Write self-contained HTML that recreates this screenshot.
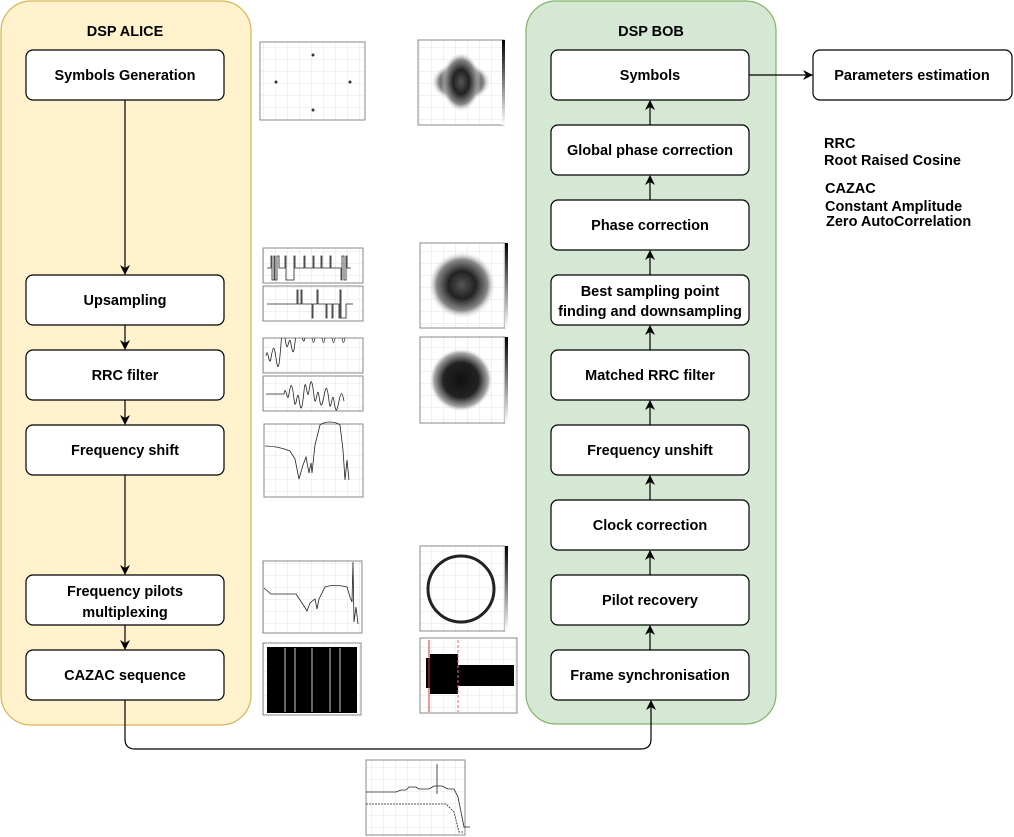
<!DOCTYPE html>
<html><head><meta charset="utf-8"><style>
html,body{margin:0;padding:0;background:#fff;width:1014px;height:837px;overflow:hidden}
svg text{font-family:"Liberation Sans",Arial,sans-serif;font-weight:bold;font-size:14.5px;fill:#000}
</style></head><body>
<svg width="1014" height="837" viewBox="0 0 1014 837" xmlns="http://www.w3.org/2000/svg">
<defs>
<marker id="ah" viewBox="0 0 10 10" refX="9" refY="5" markerWidth="10" markerHeight="10" markerUnits="userSpaceOnUse" orient="auto"><path d="M0,0 L10,5 L0,10 L3,5 Z" fill="#000"/></marker>
<pattern id="g" width="12" height="12" patternUnits="userSpaceOnUse"><path d="M12 0V12M0 12H12" stroke="#ddd" stroke-width="0.8" fill="none"/></pattern>
<radialGradient id="h1"><stop offset="0" stop-color="#555"/><stop offset="0.4" stop-color="#222"/><stop offset="0.75" stop-color="#888"/><stop offset="1" stop-color="#fff" stop-opacity="0"/></radialGradient>
<radialGradient id="h2"><stop offset="0" stop-color="#111"/><stop offset="0.55" stop-color="#222"/><stop offset="0.85" stop-color="#aaa"/><stop offset="1" stop-color="#fff" stop-opacity="0"/></radialGradient>
<linearGradient id="cb" x1="0" y1="0" x2="0" y2="1"><stop offset="0" stop-color="#000"/><stop offset="1" stop-color="#fff"/></linearGradient>
<clipPath id="c1"><rect x="263" y="248" width="100" height="35"/></clipPath>
<clipPath id="c2"><rect x="263" y="286" width="100" height="35"/></clipPath>
<clipPath id="c3"><rect x="263" y="338" width="100" height="35"/></clipPath>
<clipPath id="c4"><rect x="263" y="376" width="100" height="35"/></clipPath>
</defs>
<rect x="1" y="1" width="250" height="724" rx="30" fill="#fff2cc" stroke="#d6b656" stroke-width="1.2"/>
<rect x="526" y="1" width="250" height="723" rx="30" fill="#d5e8d4" stroke="#82b366" stroke-width="1.2"/>
<text x="125" y="36" text-anchor="middle">DSP ALICE</text>
<text x="651" y="36" text-anchor="middle">DSP BOB</text>
<g fill="#fff" stroke="#000" stroke-width="1.2">
<rect x="26" y="50" width="198" height="50" rx="7"/>
<rect x="26" y="275" width="198" height="50" rx="7"/>
<rect x="26" y="350" width="198" height="50" rx="7"/>
<rect x="26" y="425" width="198" height="50" rx="7"/>
<rect x="26" y="575" width="198" height="50" rx="7"/>
<rect x="26" y="650" width="198" height="50" rx="7"/>
<rect x="551" y="50" width="198" height="50" rx="7"/>
<rect x="551" y="125" width="198" height="50" rx="7"/>
<rect x="551" y="200" width="198" height="50" rx="7"/>
<rect x="551" y="275" width="198" height="50" rx="7"/>
<rect x="551" y="350" width="198" height="50" rx="7"/>
<rect x="551" y="425" width="198" height="50" rx="7"/>
<rect x="551" y="500" width="198" height="50" rx="7"/>
<rect x="551" y="575" width="198" height="50" rx="7"/>
<rect x="551" y="650" width="198" height="50" rx="7"/>
<rect x="813" y="50" width="199" height="50" rx="7"/>
</g>
<g text-anchor="middle">
<text x="125" y="80">Symbols Generation</text>
<text x="125" y="305">Upsampling</text>
<text x="125" y="380">RRC filter</text>
<text x="125" y="455">Frequency shift</text>
<text x="125" y="596">Frequency pilots</text>
<text x="125" y="617">multiplexing</text>
<text x="125" y="680">CAZAC sequence</text>
<text x="650" y="80">Symbols</text>
<text x="650" y="155">Global phase correction</text>
<text x="650" y="230">Phase correction</text>
<text x="650" y="296">Best sampling point</text>
<text x="650" y="316">finding and downsampling</text>
<text x="650" y="380">Matched RRC filter</text>
<text x="650" y="455">Frequency unshift</text>
<text x="650" y="530">Clock correction</text>
<text x="650" y="605">Pilot recovery</text>
<text x="650" y="680">Frame synchronisation</text>
<text x="912" y="80">Parameters estimation</text>
</g>
<text x="824" y="148">RRC</text>
<text x="824" y="165">Root Raised Cosine</text>
<text x="825" y="193">CAZAC</text>
<text x="825" y="211">Constant Amplitude</text>
<text x="826" y="226">Zero AutoCorrelation</text>
<g stroke="#000" stroke-width="1.2" fill="none" marker-end="url(#ah)">
<path d="M125 100V274"/><path d="M125 325V349"/><path d="M125 400V424"/><path d="M125 475V574"/><path d="M125 625V649"/>
<path d="M650 125V101"/><path d="M650 200V176"/><path d="M650 275V251"/><path d="M650 350V326"/><path d="M650 425V401"/><path d="M650 500V476"/><path d="M650 575V551"/><path d="M650 650V626"/>
<path d="M125 700V739Q125 749 135 749H641Q651 749 651 739V701"/>
<path d="M749 75H812"/>
</g>
<g stroke="#888" stroke-width="1">
<rect x="260" y="42" width="105" height="78" fill="url(#g)"/>
<rect x="418" y="40" width="86" height="85" fill="url(#g)"/>
<rect x="263" y="248" width="100" height="35" fill="url(#g)"/>
<rect x="263" y="286" width="100" height="35" fill="url(#g)"/>
<rect x="420" y="243" width="85" height="85" fill="url(#g)"/>
<rect x="263" y="338" width="100" height="35" fill="url(#g)"/>
<rect x="263" y="376" width="100" height="35" fill="url(#g)"/>
<rect x="420" y="337" width="85" height="86" fill="url(#g)"/>
<rect x="264" y="424" width="99" height="73" fill="url(#g)"/>
<rect x="420" y="546" width="85" height="85" fill="url(#g)"/>
<rect x="263" y="561" width="99" height="72" fill="url(#g)"/>
<rect x="263" y="643" width="98" height="72" fill="url(#g)"/>
<rect x="420" y="638" width="97" height="75" fill="url(#g)"/>
<rect x="366" y="760" width="99" height="75" fill="url(#g)"/>
</g>
<g fill="#333"><circle cx="313" cy="55" r="1.5"/><circle cx="313" cy="110" r="1.5"/><circle cx="276" cy="82" r="1.5"/><circle cx="350" cy="82" r="1.5"/></g>
<g fill="url(#h1)">
<ellipse cx="461" cy="82" rx="30" ry="20"/><ellipse cx="461" cy="82" rx="20" ry="30"/>
</g>
<rect x="502" y="40" width="3" height="85" fill="url(#cb)"/>
<circle cx="462" cy="285" r="34" fill="url(#h1)"/>
<rect x="505" y="243" width="3" height="85" fill="url(#cb)"/>
<circle cx="461" cy="380" r="32" fill="url(#h2)"/>
<rect x="505" y="337" width="3" height="86" fill="url(#cb)"/>
<circle cx="461" cy="589" r="33" fill="none" stroke="#222" stroke-width="3"/>
<rect x="505" y="546" width="3" height="85" fill="url(#cb)"/>
<g stroke="#222" stroke-width="0.8" fill="none">
<path clip-path="url(#c1)" d="M267 268h4v-12h1v24h2v-24h1v24h2v-24h2v12h6v-12h1v24h8v-24h1v12h9v-12h1v12h8v-12h1v12h7v-12h1v12h8v-12h1v12h10v12h1v-24h2v24h2v-24h1v12h4"/>
<path clip-path="url(#c2)" d="M267 304h30v-14h1v14h3v-14h1v14h10v14h1v-14h4v-14h1v14h8v14h1v-14h5v14h1v-14h6v14h1v-28h1v28h5v-14h7"/>
<path clip-path="url(#c3)" d="M266 356c2-12 3 14 5 2s3-14 5 0 3 12 5-14 3-10 5 0 3-12 5 0 3 12 5-12 3-10 5 0 3 14 5 0 3-14 5 0 3 14 5 0 3-14 5 0 3 14 5 0 3-14 5 0 3 14 5 0 3-14 5 0 3 14 5 0 3-12 5 0"/>
<path clip-path="url(#c4)" d="M266 394h18c2-12 3 12 5 0s3-12 5 5 3-14 5 0 3 12 5-8 3 14 5 0 3-12 5 5 3-14 5 0 3 10 5 0 3-12 5 5 3-14 5 0 3 10 5 0 3-10 5 0"/>
<path d="M265 446c10 0 20 3 25 5l5 8 4 20 4-14 3-8 3 16 2-10 1 10 3-28 5-20c5-4 15-4 20 0l3 25 2 30 2-20 2 20"/>
<path d="M264 588l7 6h25l8 12 3 5 3-8 5-4 2 10 2-10 6-12c5-2 15-2 22 0l3 10 2 5 1-40 1 60 2-15 2 17"/>
<path d="M366 792h30l5-2h5l3-3h7l3 2h10l5-3h8l6 3h6l4 8 6 30h6"/>
<path d="M366 804h80l8 8 5 20h4" stroke-dasharray="2,1"/>
<path d="M437 764v30"/>
</g>
<rect x="267" y="647" width="90" height="66" fill="#000"/>
<g stroke="#fff" stroke-width="0.8"><path d="M295 648v64M312 648v64M330 648v64M285 648v64M340 648v64"/></g>
<rect x="426" y="658" width="4" height="30" fill="#000"/>
<rect x="430" y="654" width="28" height="40" fill="#000"/>
<rect x="458" y="665" width="56" height="21" fill="#000"/>
<path d="M429 640V712" stroke="#d33" stroke-width="1"/>
<path d="M458 640V712" stroke="#e66" stroke-width="1" stroke-dasharray="3,2"/>
</svg>
</body></html>
